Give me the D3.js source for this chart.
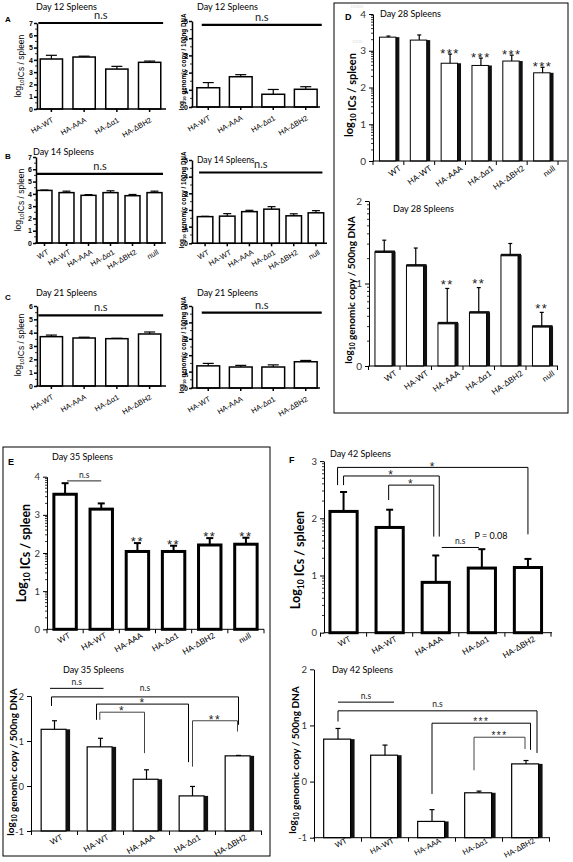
<!DOCTYPE html>
<html><head><meta charset="utf-8">
<script src="https://cdn.jsdelivr.net/npm/d3@7"></script>
<style>body{margin:0;background:#fff}svg{display:block}</style>
</head><body>
<svg id="c" width="573" height="862"></svg>
<script>
// ---------------- DATA ----------------
const cats4 = ["HA-WT", "HA-AAA", "HA-Δα1", "HA-ΔBH2"];
const cats5 = ["WT", "HA-WT", "HA-AAA", "HA-Δα1", "HA-ΔBH2"];
const cats6 = ["WT", "HA-WT", "HA-AAA", "HA-Δα1", "HA-ΔBH2", "null"];

const d12ICs = [4.07, 4.23, 3.25, 3.8];
const d12ICsErr = [0.3, 0.07, 0.22, 0.1];
const d12Gen = [1.12, 1.76, 0.74, 1.03];
const d12GenErr = [0.3, 0.12, 0.28, 0.15];

const d14ICs = [4.28, 4.1, 3.88, 4.1, 3.85, 4.1];
const d14ICsErr = [0.03, 0.12, 0.06, 0.15, 0.1, 0.12];
const d14Gen = [1.6, 1.63, 1.9, 2.05, 1.65, 1.83];
const d14GenErr = [0.02, 0.15, 0.08, 0.15, 0.12, 0.13];

const d21ICs = [3.7, 3.6, 3.55, 3.9];
const d21ICsErr = [0.12, 0.06, 0.03, 0.15];
const d21Gen = [1.35, 1.28, 1.28, 1.6];
const d21GenErr = [0.15, 0.1, 0.13, 0.08];

const d28ICs = [3.37, 3.29, 2.66, 2.6, 2.72, 2.4];
const d28ICsErr = [0.03, 0.14, 0.25, 0.2, 0.16, 0.15];
const d28ICsSig = ["", "", "***", "***", "***", "***"];
const d28Gen = [1.385, 1.22, 0.52, 0.65, 1.345, 0.48];
const d28GenErr = [0.14, 0.21, 0.42, 0.3, 0.14, 0.17];
const d28GenSig = ["", "", "**", "**", "", "**"];

const d35ICs = [3.54, 3.15, 2.04, 2.04, 2.21, 2.23];
const d35ICsErr = [0.29, 0.15, 0.22, 0.15, 0.18, 0.17];
const d35ICsSig = ["", "", "**", "**", "**", "**"];
const d35Gen = [1.26, 0.87, 0.15, -0.22, 0.67];
const d35GenErr = [0.19, 0.19, 0.21, 0.21, 0.01];

const d42ICs = [2.12, 1.84, 0.88, 1.13, 1.14];
const d42ICsErr = [0.34, 0.31, 0.47, 0.33, 0.15];
const d42Gen = [0.756, 0.47, -0.71, -0.2, 0.315];
const d42GenErr = [0.19, 0.18, 0.21, 0.03, 0.06];

const ticks0to7 = [0, 1, 2, 3, 4, 5, 6, 7];
const ticks0to6 = [0, 1, 2, 3, 4, 5, 6];
const ticks0to5 = [0, 1, 2, 3, 4, 5];
const ticks0to4 = [0, 1, 2, 3, 4];
const ticks0to3 = [0, 1, 2, 3];
const ticks0to2 = [0, 1, 2];
const ticksM1to2 = [-1, 0, 1, 2];

// ---------------- DRAWING ----------------
const svg = d3.select("#c");
const FONT = "Lato, 'Open Sans', sans-serif";
const AFONT = "'Liberation Sans', Arial, sans-serif";

function rich(parent, x, y, rot, segs, size, weight, anchor, font, fill) {
  const t = parent.append("text")
    .attr("transform", `translate(${x},${y}) rotate(${rot})`)
    .attr("text-anchor", anchor || "middle")
    .attr("font-size", size).attr("font-weight", weight || "normal")
    .attr("font-family", font || FONT).attr("fill", fill || "#000");
  segs.forEach(s => {
    if (typeof s === "string") t.append("tspan").text(s);
    else {
      t.append("tspan").attr("font-size", size * 0.68).attr("dy", size * 0.3).text(s.sub);
      t.append("tspan").attr("dy", -size * 0.3).text("");
    }
  });
  return t;
}
function txt(x, y, s, size, opts) {
  opts = opts || {};
  return svg.append("text").attr("x", x).attr("y", y).text(s)
    .attr("font-size", size).attr("font-family", opts.font || FONT)
    .attr("font-weight", opts.weight || "normal")
    .attr("text-anchor", opts.anchor || "start")
    .attr("fill", opts.fill || "#000")
    .attr("letter-spacing", opts.ls || 0);
}

function panel(p) {
  const g = svg.append("g");
  const x = d3.scaleBand().domain(p.cats).range(p.xr).paddingInner(p.pad).paddingOuter(p.pad / 2);
  const y = d3.scaleLinear().domain(p.yd).range(p.yr);
  const base = p.yd[0];
  const y0 = y(base);
  const bw = x.bandwidth();
  const cx = c => x(c) + bw / 2;
  const st = p.style;

  p.cats.forEach((c, i) => {
    const v = p.vals[i];
    if (st.shadow) {
      g.append("rect").attr("x", x(c) + bw - st.shadow / 2).attr("width", st.shadow + 0.5)
        .attr("y", y(v)).attr("height", y0 - y(v)).attr("fill", "#111");
    }
    g.append("rect").attr("x", x(c)).attr("width", bw - (st.shadow ? st.shadow / 2 : 0))
      .attr("y", y(v)).attr("height", y0 - y(v))
      .attr("fill", "#fff").attr("stroke", "#000").attr("stroke-width", st.barW);
    if (st.topW) {
      g.append("line").attr("x1", x(c)).attr("x2", x(c) + bw + st.shadow / 2)
        .attr("y1", y(v)).attr("y2", y(v)).attr("stroke", "#111").attr("stroke-width", st.topW);
    }
    const e = p.errs[i];
    const ty = y(v + e);
    g.append("line").attr("x1", cx(c)).attr("x2", cx(c)).attr("y1", y(v)).attr("y2", ty)
      .attr("stroke", "#000").attr("stroke-width", st.errW);
    g.append("line").attr("x1", cx(c) - st.cap / 2).attr("x2", cx(c) + st.cap / 2)
      .attr("y1", ty).attr("y2", ty).attr("stroke", "#000").attr("stroke-width", st.errW);
    if (p.sig && p.sig[i]) {
      txt(cx(c), ty - p.sigGap + 0.6 * p.sigSize, p.sig[i], p.sigSize,
        { anchor: "middle", font: AFONT, ls: 1.5, fill: "#222" });
    }
  });

  const yAxis = d3.axisLeft(y).tickValues(p.yticks).tickSize(st.tick).tickSizeOuter(0)
    .tickPadding(st.tpad).tickFormat(d => d < 0 ? "-" + Math.abs(d) : String(d));
  const ya = g.append("g").attr("transform", `translate(${p.ax},0)`).call(yAxis);
  ya.select(".domain").attr("stroke", "#000").attr("stroke-width", st.axW);
  ya.selectAll(".tick line").attr("stroke", "#000").attr("stroke-width", st.axW);
  ya.selectAll(".tick text").attr("font-family", st.tfont).attr("font-size", st.tsize)
    .attr("font-weight", st.tweight || "normal").attr("fill", st.tfill || "#000");
  if (p.minor) {
    let mt = [];
    const lo = Math.ceil(p.yd[0]), hi = Math.floor(p.yd[1]);
    for (let d = lo; d < hi; d++) {
      if (p.minor === "half") mt.push(d + 0.5);
      else for (let k = 2; k <= 9; k++) mt.push(d + Math.log10(k));
    }
    g.selectAll(null).data(mt).join("line")
      .attr("x1", p.ax - st.minorLen).attr("x2", p.ax).attr("y1", d => y(d)).attr("y2", d => y(d))
      .attr("stroke", "#000").attr("stroke-width", 0.8);
  }

  g.append("line").attr("x1", p.ax - st.axW / 2).attr("x2", p.axEnd).attr("y1", y0).attr("y2", y0)
    .attr("stroke", "#000").attr("stroke-width", st.axW);
  let xt;
  if (st.xticks === "center") xt = p.cats.map(cx);
  else {
    const step = x.step();
    xt = p.cats.map(c => x(c) - step * p.pad / 2);
    xt.push(xt[xt.length - 1] + step);
  }
  g.selectAll(null).data(xt).join("line")
    .attr("x1", d => d).attr("x2", d => d).attr("y1", y0).attr("y2", y0 + st.xtick)
    .attr("stroke", "#000").attr("stroke-width", st.xtickW || st.axW);
  p.cats.forEach(c => {
    g.append("text").attr("transform", `translate(${cx(c) + st.lx},${y0 + st.ly}) rotate(${st.lrot})`)
      .attr("text-anchor", "end").attr("font-size", st.lsize).attr("font-family", st.lfont)
      .attr("dy", "0.7em").attr("fill", "#000").text(c);
  });

  (p.brackets || []).forEach(b => {
    const xa = cx(b.a) + (b.ao || 0), xb = cx(b.b) + (b.bo || 0);
    const ly = y(b.y);
    let path = `M${xa},${ly}H${xb}`;
    if (b.ya !== undefined) path = `M${xa},${y(b.ya)}V${ly}H${xb}V${y(b.yb)}`;
    g.append("path").attr("d", path).attr("fill", "none").attr("stroke", b.color || "#000")
      .attr("stroke-width", b.w || 1);
    if (b.text) {
      const star = b.text.indexOf("*") >= 0;
      const fs = b.fs || (star ? 12 : 8.5);
      const by = star ? ly + 0.6 * fs - (b.tg || 4) : ly - (b.tg || 3);
      txt((xa + xb) / 2 + (b.tx || 0), by, b.text, fs, { anchor: "middle", font: star ? AFONT : FONT, ls: star ? 1.5 : 0, fill: "#222" });
    }
  });
  return { x, y, cx, g };
}

const prism = { barW: 1.5, shadow: 0, errW: 1.2, cap: 11, axW: 1.5, tick: 3, tpad: 1, tfont: AFONT, tsize: 7,
  tweight: "bold", minorLen: 2, xticks: "center", xtick: 3, lx: 0, ly: 8, lrot: -30, lsize: 7.5, lfont: AFONT };
const prism6 = Object.assign({}, prism, { cap: 8, lx: 2, ly: 6 });
const excelD = { barW: 1, shadow: 3, errW: 1.2, cap: 4, axW: 1, tick: 4, tpad: 3, tfont: FONT, tsize: 10,
  tfill: "#333", minorLen: 2, xticks: "bound", xtick: 4, lx: 10, ly: 4, lrot: -35, lsize: 8, lfont: FONT };
const excelThick = Object.assign({}, excelD, { barW: 3, shadow: 0, errW: 2, cap: 7, xtickW: 1, tsize: 9.5, lx: 3, ly: 3, lrot: -30 });
const excelGen = Object.assign({}, excelD, { barW: 1.2, shadow: 3.5, cap: 5, tsize: 9.5, lx: 6, ly: 3, lrot: -30 });

// ---- Panel A ----
txt(5, 22, "A", 8, { weight: "bold", font: AFONT });
txt(36, 10, "Day 12 Spleens", 9);
panel({ cats: cats4, vals: d12ICs, errs: d12ICsErr, xr: [35, 166], pad: 0.32, yd: [0, 7], yr: [109, 23],
  yticks: ticks0to7, ax: 37, axEnd: 166, style: prism, minor: "half",
  brackets: [{ a: "HA-WT", ao: -13, b: "HA-ΔBH2", bo: 13.5, y: 7, text: "n.s", fs: 11, w: 2.2, tg: 4 }] });
rich(svg, 21, 66, -90, ["log", { sub: "10" }, "ICs / spleen"], 8.5, "normal", "middle", AFONT);

txt(197, 10, "Day 12 Spleens", 9);
panel({ cats: cats4, vals: d12Gen, errs: d12GenErr, xr: [192, 322], pad: 0.3, yd: [0, 5], yr: [107, 21],
  yticks: ticks0to5, ax: 192, axEnd: 320, style: prism, minor: "half",
  brackets: [{ a: "HA-WT", ao: -6.5, b: "HA-ΔBH2", bo: 16, y: 4.77, text: "n.s", fs: 11, w: 2.2, tg: 4 }] });
rich(svg, 184, 62, -90, ["log", { sub: "10" }, " genomic copy / 100ng DNA"], 6.3, "bold", "middle", AFONT);

// ---- Panel B ----
txt(5, 159, "B", 8, { weight: "bold", font: AFONT });
txt(33, 155, "Day 14 Spleens", 9);
panel({ cats: cats6, vals: d14ICs, errs: d14ICsErr, xr: [33.5, 165.5], pad: 0.32, yd: [0, 7], yr: [243, 157],
  yticks: ticks0to7, ax: 36, axEnd: 166, style: prism6, minor: "half",
  brackets: [{ a: "WT", ao: -7.5, b: "null", bo: 8.5, y: 5.63, text: "n.s", fs: 11, w: 2.2, tg: 4 }] });
rich(svg, 21, 200, -90, ["log", { sub: "10" }, "ICs / spleen"], 8.5, "normal", "middle", AFONT);

txt(197, 163, "Day 14 Spleens", 8.5);
panel({ cats: cats6, vals: d14Gen, errs: d14GenErr, xr: [194, 327], pad: 0.3, yd: [0, 5], yr: [243.3, 160],
  yticks: ticks0to5, ax: 192, axEnd: 327, style: prism6, minor: "half",
  brackets: [{ a: "WT", ao: -6, b: "null", bo: 6.5, y: 4.25, text: "n.s", fs: 11, w: 2.2, tg: 4 }] });
rich(svg, 184, 200, -90, ["log", { sub: "10" }, " genomic copy / 100ng DNA"], 6.3, "bold", "middle", AFONT);

// ---- Panel C ----
txt(5, 300, "C", 8, { weight: "bold", font: AFONT });
txt(36, 296, "Day 21 Spleens", 9);
panel({ cats: cats4, vals: d21ICs, errs: d21ICsErr, xr: [35, 166], pad: 0.32, yd: [0, 6], yr: [386, 306],
  yticks: ticks0to6, ax: 37, axEnd: 166, style: prism, minor: "half",
  brackets: [{ a: "HA-WT", ao: -13, b: "HA-ΔBH2", bo: 13.5, y: 5.3, text: "n.s", fs: 11, w: 2.2, tg: 4 }] });
rich(svg, 21, 345, -90, ["log", { sub: "10" }, "ICs / spleen"], 8.5, "normal", "middle", AFONT);

txt(197, 296, "Day 21 Spleens", 9);
panel({ cats: cats4, vals: d21Gen, errs: d21GenErr, xr: [192, 322], pad: 0.3, yd: [0, 5], yr: [388, 306],
  yticks: ticks0to5, ax: 192, axEnd: 320, style: prism, minor: "half",
  brackets: [{ a: "HA-WT", ao: -6.5, b: "HA-ΔBH2", bo: 16, y: 4.6, text: "n.s", fs: 11, w: 2.2, tg: 4 }] });
rich(svg, 184, 345, -90, ["log", { sub: "10" }, " genomic copy / 100ng DNA"], 6.3, "bold", "middle", AFONT);

// ---- Panel D ----
svg.append("rect").attr("x", 334).attr("y", 3).attr("width", 234).attr("height", 410)
  .attr("fill", "none").attr("stroke", "#000").attr("stroke-width", 1);
txt(345, 20, "D", 9, { weight: "bold", font: AFONT });
txt(350, 8, "10000", 4.5, { fill: "#e0e0e0" });
txt(352, 43, "1000", 4.5, { fill: "#e0e0e0" });
txt(380, 17, "Day 28 Spleens", 9);
panel({ cats: cats6, vals: d28ICs, errs: d28ICsErr, sig: d28ICsSig, sigGap: 4, sigSize: 13,
  xr: [373, 558], pad: 0.42, yd: [0, 4], yr: [161, 14],
  yticks: ticks0to4, ax: 373, axEnd: 567, style: excelD, minor: "log" });
rich(svg, 353, 95, -90, ["log", { sub: "10" }, " ICs / spleen"], 11, "bold");

txt(393, 212, "Day 28 Spleens", 9);
panel({ cats: cats6, vals: d28Gen, errs: d28GenErr, sig: d28GenSig, sigGap: 7, sigSize: 13,
  xr: [368.5, 557.5], pad: 0.41, yd: [0, 2], yr: [366, 201],
  yticks: ticks0to2, ax: 369, axEnd: 558, style: Object.assign({}, excelD, { topW: 2.5 }), minor: "log" });
rich(svg, 352, 290, -90, ["log", { sub: "10" }, " genomic copy / 500ng DNA"], 10, "bold");

// ---- Panel E ----
svg.append("rect").attr("x", 3).attr("y", 447).attr("width", 267).attr("height", 409)
  .attr("fill", "none").attr("stroke", "#000").attr("stroke-width", 1);
txt(8, 465, "E", 9, { weight: "bold", font: AFONT });
txt(52, 460, "Day 35 Spleens", 9);
panel({ cats: cats6, vals: d35ICs, errs: d35ICsErr, sig: d35ICsSig, sigGap: 5, sigSize: 13,
  xr: [47, 264], pad: 0.38, yd: [0, 4], yr: [629.3, 476.7],
  yticks: ticks0to4, ax: 47, axEnd: 264, style: excelThick, minor: "log",
  brackets: [{ a: "WT", ao: 2, b: "HA-WT", bo: 0, y: 3.89, text: "n.s", color: "#222" }] });
rich(svg, 26, 553, -90, ["Log", { sub: "10" }, " ICs / spleen"], 12.5, "bold");

txt(63, 673, "Day 35 Spleens", 9);
panel({ cats: cats5, vals: d35Gen, errs: d35GenErr, xr: [31.5, 261.5], pad: 0.42, yd: [-1, 2], yr: [831, 696],
  yticks: ticksM1to2, ax: 31, axEnd: 262, style: excelGen,
  brackets: [
    { a: "WT", ao: -4.5, b: "HA-WT", bo: 3, y: 2.17, text: "n.s" },
    { a: "WT", ao: -3, b: "HA-ΔBH2", bo: 0, y: 1.98, ya: 1.78, yb: 1.36, text: "n.s", tg: 6 },
    { a: "HA-WT", ao: -4, b: "HA-Δα1", bo: -4, y: 1.82, ya: 1.47, yb: 0.53, text: "*" },
    { a: "HA-WT", ao: -0.7, b: "HA-AAA", bo: -2, y: 1.64, ya: 1.47, yb: 0.73, text: "*", color: "#444" },
    { a: "HA-Δα1", ao: 0, b: "HA-ΔBH2", bo: -1, y: 1.45, ya: 0.43, yb: 1.21, text: "**", color: "#444" }
  ] });
rich(svg, 14, 762, -90, ["log", { sub: "10" }, " genomic copy / 500ng DNA"], 10, "bold");

// ---- Panel F ----
txt(289, 463, "F", 9, { weight: "bold", font: AFONT });
txt(330, 457, "Day 42 Spleens", 9);
panel({ cats: cats5, vals: d42ICs, errs: d42ICsErr, xr: [320.5, 551], pad: 0.41, yd: [0, 3], yr: [632.7, 461.1],
  yticks: ticks0to3, ax: 324, axEnd: 552, style: Object.assign({}, excelThick, { lx: 5 }), minor: "log",
  brackets: [
    { a: "WT", ao: -6, b: "HA-ΔBH2", bo: 0, y: 2.89, ya: 2.58, yb: 1.72, text: "*" },
    { a: "WT", ao: 0, b: "HA-AAA", bo: 3.5, y: 2.74, ya: 2.58, yb: 1.68, text: "*" },
    { a: "HA-WT", ao: -1, b: "HA-AAA", bo: -2, y: 2.58, ya: 2.32, yb: 1.68, text: "*" },
    { a: "HA-AAA", ao: 6, b: "HA-Δα1", bo: -3, y: 1.49, text: "n.s" }
  ] });
txt(491, 539, "P = 0.08", 9, { anchor: "middle" });
rich(svg, 300, 560, -90, ["Log", { sub: "10" }, " ICs / spleen"], 12.5, "bold");

txt(332, 673, "Day 42 Spleens", 9);
panel({ cats: cats5, vals: d42Gen, errs: d42GenErr, xr: [314.5, 549.5], pad: 0.39, yd: [-1, 2], yr: [837.7, 669.3],
  yticks: ticksM1to2, ax: 314, axEnd: 550, style: Object.assign({}, excelGen, { lx: 7, ly: 0, lsize: 7.5, lrot: -28 }),
  brackets: [
    { a: "WT", ao: 0, b: "HA-WT", bo: 9, y: 1.415, text: "n.s" },
    { a: "WT", ao: 0, b: "HA-ΔBH2", bo: 11, y: 1.26, ya: 1.07, yb: 0.51, text: "n.s", tg: 4 },
    { a: "HA-AAA", ao: 0, b: "HA-ΔBH2", bo: 4.5, y: 1.04, ya: -0.22, yb: 0.565, text: "***", fs: 10 },
    { a: "HA-Δα1", ao: -5, b: "HA-ΔBH2", bo: -1, y: 0.79, ya: 0.2, yb: 0.58, text: "***", fs: 10, color: "#444" }
  ] });
rich(svg, 296, 760, -90, ["log", { sub: "10" }, " genomic copy / 500ng DNA"], 10, "bold");
</script>
</body></html>
